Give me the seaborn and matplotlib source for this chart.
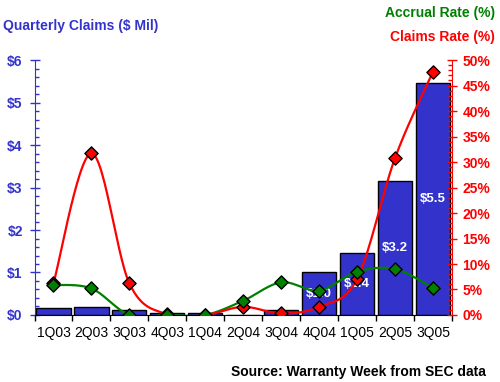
import numpy as np
import pandas as pd
import matplotlib
matplotlib.use("Agg")
import matplotlib.pyplot as plt
from matplotlib.ticker import MultipleLocator, FuncFormatter
import seaborn as sns

# chart data
quarters = ["1Q03", "2Q03", "3Q03", "4Q03", "1Q04", "2Q04",
            "3Q04", "4Q04", "1Q05", "2Q05", "3Q05"]
claims_mil = [0.16, 0.19, 0.11, 0.05, 0.05, 0.01, 0.12, 1.0, 1.45, 3.15, 5.45]
bar_labels = ["", "", "", "", "", "", "", "$1.0", "$1.4", "$3.2", "$5.5"]
claims_rate = [6.2, 31.7, 6.2, 0.1, 0.0, 1.6, 0.3, 1.6, 7.1, 30.8, 47.7]
accrual_rate = [5.9, 5.2, 0.0, 0.0, 0.0, 2.8, 6.4, 4.8, 8.5, 9.0, 5.3]

BLUE = "#3333CC"
RED = "#FF0000"
GREEN = "#008000"

sns.set_style("white")
plt.rcParams['font.family'] = ['Liberation Sans', 'DejaVu Sans']


def smooth(xs, ys, n=30):
    # Excel-style smoothed line (Catmull-Rom as cubic Bezier)
    p = np.column_stack([xs, ys]).astype(float)
    out = []
    for i in range(len(p) - 1):
        p0 = p[i - 1] if i > 0 else p[i]
        p1, p2 = p[i], p[i + 1]
        p3 = p[i + 2] if i + 2 < len(p) else p[i + 1]
        b1 = p1 + (p2 - p0) / 6
        b2 = p2 - (p3 - p1) / 6
        t = np.linspace(0, 1, n)[:, None]
        seg = ((1 - t) ** 3) * p1 + 3 * ((1 - t) ** 2) * t * b1 \
            + 3 * (1 - t) * t ** 2 * b2 + t ** 3 * p2
        out.append(seg if i == 0 else seg[1:])
    out = np.vstack(out)
    return out[:, 0], out[:, 1]


df = pd.DataFrame({"quarter": quarters, "claims": claims_mil,
                   "claims_rate": claims_rate, "accrual_rate": accrual_rate})
df["x"] = np.arange(len(df))

fig = plt.figure(figsize=(5.0, 3.82), dpi=100)
ax = fig.add_axes([0.069, 0.1754, 0.835, 0.6675])

sns.barplot(data=df, x="quarter", y="claims", color=BLUE, saturation=1,
            width=0.9, edgecolor="black", linewidth=1, ax=ax)
ax.set_xlim(-0.5, len(quarters) - 0.5)
ax.set_ylim(0, 6)

for i, lab in enumerate(bar_labels):
    if lab:
        ax.text(i, claims_mil[i] / 2, lab, color="white", fontsize=9.5,
                fontweight="bold", ha="center", va="center")

ax2 = ax.twinx()
ax2.set_ylim(0, 50)
xs, ys = smooth(df["x"], df["accrual_rate"])
ax2.plot(xs, ys, color=GREEN, lw=1.6, zorder=3)
xs, ys = smooth(df["x"], df["claims_rate"])
ax2.plot(xs, ys, color=RED, lw=1.6, zorder=4)
sns.scatterplot(data=df, x="x", y="claims_rate", marker="D", s=45,
                color=RED, edgecolor="black", linewidth=1, ax=ax2, zorder=5)
sns.scatterplot(data=df, x="x", y="accrual_rate", marker="D", s=45,
                color=GREEN, edgecolor="black", linewidth=1, ax=ax2, zorder=6)
ax2.set_xlim(-0.5, len(quarters) - 0.5)
ax2.set_xlabel("")
ax2.set_ylabel("")
ax.set_xlabel("")
ax.set_ylabel("")

# left axis
ax.yaxis.set_major_locator(MultipleLocator(1))
ax.yaxis.set_minor_locator(MultipleLocator(0.2))
ax.yaxis.set_major_formatter(FuncFormatter(lambda v, p: f"${v:.0f}"))
ax.tick_params(axis="y", which="major", direction="inout", length=7, width=1,
               color=BLUE, labelcolor=BLUE, labelsize=10, pad=5)
ax.tick_params(axis="y", which="minor", direction="in", length=3, width=1,
               color=BLUE, left=True)
for t in ax.get_yticklabels():
    t.set_fontweight("bold")

# bottom axis: ticks at boundaries, labels at centres
ax.set_xticks(np.arange(-0.5, len(quarters)), labels=[""] * (len(quarters) + 1))
ax.set_xticks(np.arange(len(quarters)), labels=quarters, minor=True)
ax.tick_params(axis="x", which="major", direction="out", length=4, width=1,
               color="black", bottom=True)
ax.tick_params(axis="x", which="minor", length=0, labelsize=10, pad=8,
               labelcolor="black")

# right axis
ax2.yaxis.set_major_locator(MultipleLocator(5))
ax2.yaxis.set_minor_locator(MultipleLocator(1))
ax2.yaxis.set_major_formatter(FuncFormatter(lambda v, p: f"{v:.0f}%"))
ax2.tick_params(axis="y", which="major", direction="inout", length=7, width=1,
                color=RED, labelcolor=RED, labelsize=10, pad=4, right=True)
ax2.tick_params(axis="y", which="minor", direction="in", length=3, width=1,
                color=RED, right=True)
for t in ax2.get_yticklabels():
    t.set_fontweight("bold")

for a in (ax, ax2):
    a.spines["top"].set_visible(False)
    a.grid(False)
ax.spines["right"].set_visible(False)
ax.spines["left"].set_color(BLUE)
ax.spines["bottom"].set_color("black")
ax2.spines["left"].set_visible(False)
ax2.spines["bottom"].set_visible(False)
ax2.spines["right"].set_color(RED)

fig.text(0.006, 0.933, "Quarterly Claims ($ Mil)", color=BLUE, fontsize=10,
         fontweight="bold", ha="left", va="center")
fig.text(0.99, 0.967, "Accrual Rate (%)", color=GREEN, fontsize=10,
         fontweight="bold", ha="right", va="center")
fig.text(0.99, 0.904, "Claims Rate (%)", color=RED, fontsize=10,
         fontweight="bold", ha="right", va="center")
fig.text(0.972, 0.026, "Source: Warranty Week from SEC data", color="black",
         fontsize=10, fontweight="bold", ha="right", va="center")

fig.savefig("out.png", dpi=100, facecolor="white")
